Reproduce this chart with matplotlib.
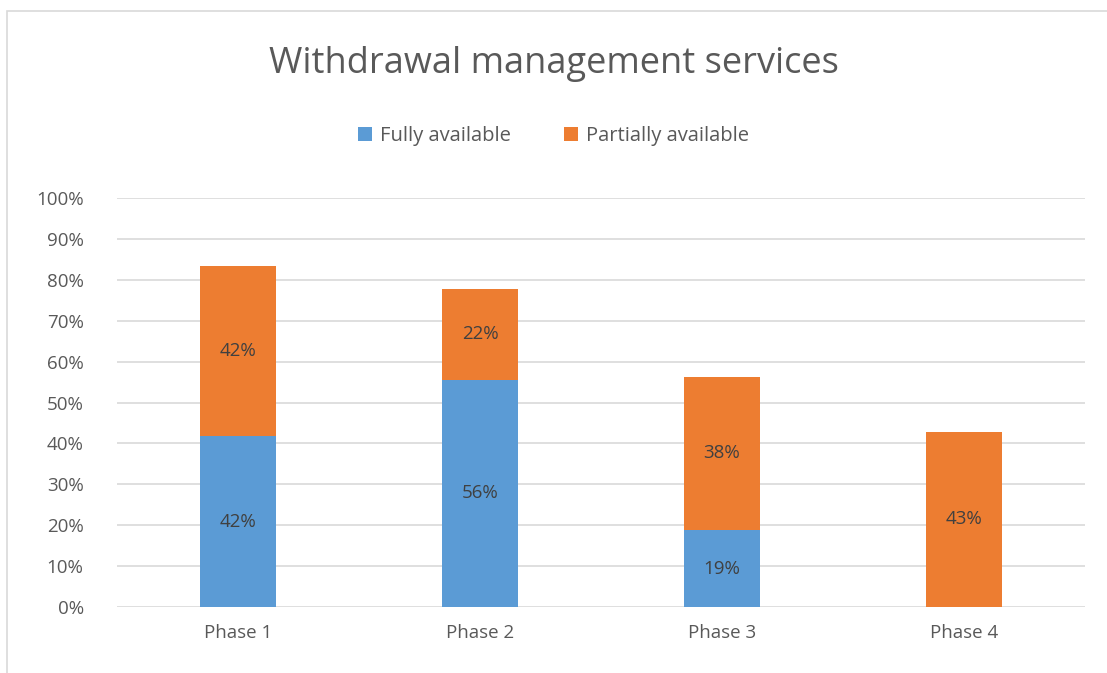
import numpy as np
import matplotlib.pyplot as plt
from matplotlib.patches import Rectangle

plt.rcParams['font.family'] = ['Open Sans', 'DejaVu Sans']

phases = ["Phase 1", "Phase 2", "Phase 3", "Phase 4"]
fully = [41.7, 55.6, 18.8, 0.0]
partially = [41.7, 22.2, 37.5, 42.9]
fully_labels = ["42%", "56%", "19%", ""]
partially_labels = ["42%", "22%", "38%", "43%"]

BLUE = "#5b9bd5"
ORANGE = "#ed7d31"
TXT = "#595959"

fig = plt.figure(figsize=(11.07, 6.73), dpi=100)
ax = fig.add_axes([117 / 1107, 1 - 607 / 673, 968 / 1107, 409 / 673])

x = np.arange(len(phases))
w = 0.315
ax.bar(x, fully, w, color=BLUE, label="Fully available", zorder=3)
ax.bar(x, partially, w, bottom=fully, color=ORANGE, label="Partially available", zorder=3)

for i in range(len(phases)):
    if fully_labels[i]:
        ax.text(x[i], fully[i] / 2, fully_labels[i], ha="center", va="center",
                fontsize=13.5, color="#404040", zorder=4)
    ax.text(x[i], fully[i] + partially[i] / 2, partially_labels[i], ha="center",
            va="center", fontsize=13.5, color="#404040", zorder=4)

ax.set_xlim(-0.5, len(phases) - 0.5)
ax.set_ylim(0, 100)
ax.set_yticks(np.arange(0, 101, 10))
ax.set_yticklabels([f"{v}%" for v in range(0, 101, 10)])
ax.set_xticks(x)
ax.set_xticklabels(phases)
ax.tick_params(axis="both", length=0, labelsize=13.5, colors=TXT)
ax.tick_params(axis="y", pad=24)
ax.tick_params(axis="x", pad=12)
ax.grid(axis="y", color="#d9d9d9", linewidth=1.2, zorder=0)
for s in ax.spines.values():
    s.set_visible(False)

fig.text(0.5, 1 - 64 / 673, "Withdrawal management services", ha="center",
         va="center", fontsize=26, color=TXT)
fig.legend(loc="center", bbox_to_anchor=(0.5, 1 - 136 / 673), ncol=2,
           frameon=False, fontsize=14.5, labelcolor=TXT, handlelength=0.7,
           handleheight=0.7, handletextpad=0.4, columnspacing=2.6)

fig.patches.append(Rectangle((7 / 1107, -0.01), 1.0, 1 - 11 / 673 + 0.01,
                             transform=fig.transFigure, fill=False,
                             edgecolor="#d9d9d9", linewidth=1.2))

fig.savefig("out.png", dpi=100)
